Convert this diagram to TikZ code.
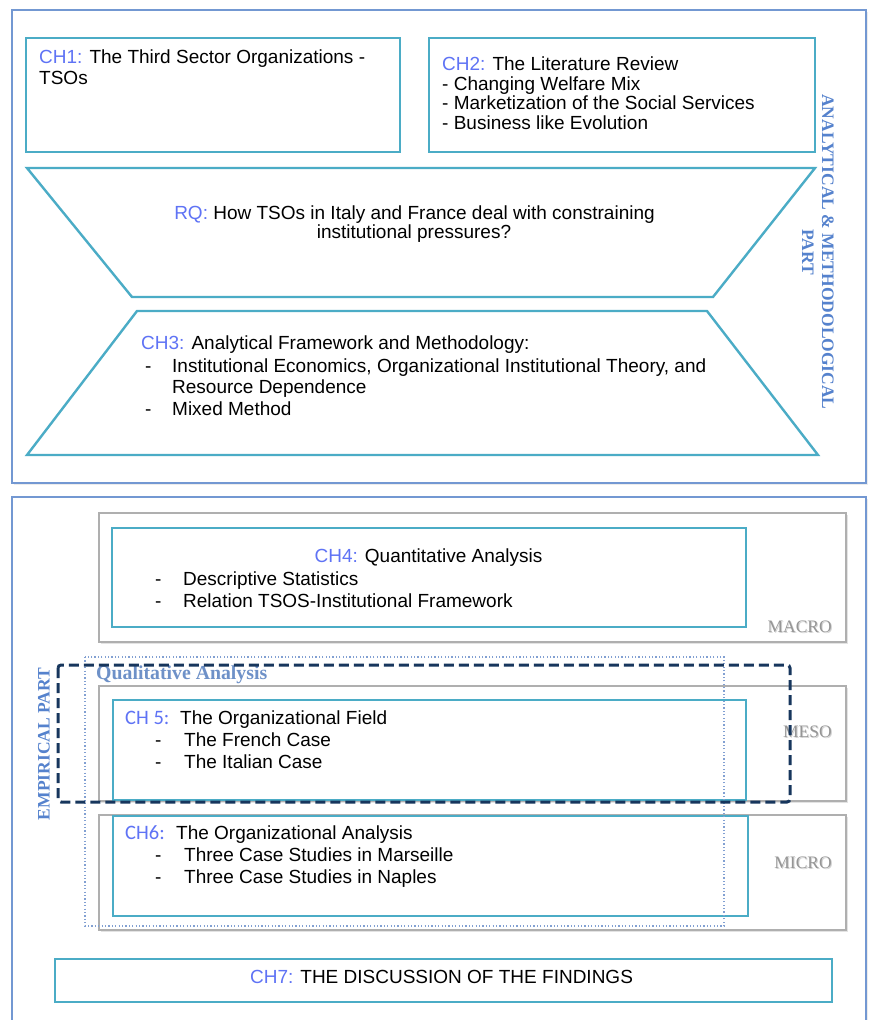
\documentclass[tikz,border=0pt]{standalone}
\usepackage{fontspec}
\setmainfont{Liberation Sans}
\newfontfamily\serifl{Liberation Serif}
\newfontfamily\calib{Carlito}
\usetikzlibrary{shadows}
\definecolor{tealc}{RGB}{75,172,198}
\definecolor{outerblue}{RGB}{115,152,210}
\definecolor{chblue}{RGB}{95,115,245}
\definecolor{vertblue}{RGB}{85,130,205}
\definecolor{qualblue}{RGB}{110,145,200}
\definecolor{navy}{RGB}{23,54,93}
\definecolor{dotblue}{RGB}{130,160,210}
\definecolor{greyb}{RGB}{175,175,175}
\definecolor{greyt}{RGB}{150,150,150}
\begin{document}
\begin{tikzpicture}[x=1pt,y=-1pt,
  txt/.style={inner sep=0pt, anchor=base west, font=\fontsize{19}{21}\selectfont},
  ctxt/.style={inner sep=0pt, anchor=base, font=\fontsize{19}{21}\selectfont},
  tealbox/.style={draw=tealc, line width=2.4pt},
  outerbox/.style={draw=outerblue, line width=1.3pt, fill=white,
    drop shadow={shadow xshift=1.5pt, shadow yshift=-1.5pt, opacity=0.15}},
  greybox/.style={draw=greyb, line width=1.3pt, fill=white,
    drop shadow={shadow xshift=2pt, shadow yshift=-2pt, opacity=0.22}},
  lvl/.style={inner sep=0pt, anchor=base east, text=greyt, font=\serifl\fontsize{17.5}{19}\selectfont},
  lvlshadow/.style={lvl, text=black, opacity=0.18, xshift=1pt, yshift=-1.2pt},
  vert/.style={inner sep=0pt, align=center, text=vertblue, font=\serifl\bfseries\fontsize{17.5}{20}\selectfont},
  ch/.style={text=chblue}]
\useasboundingbox (0,0) rectangle (871,1020);

% outer boxes
\draw[outerbox] (12,10) rectangle (866,483);
\draw[outerbox] (12,497) rectangle (866,1040);

% top part
\draw[tealbox] (26,38) rectangle (400,152);
\draw[tealbox] (429,38) rectangle (815,152);
\node[txt] (ch1a) at (39,63) {\textcolor{chblue}{CH1:} The Third Sector Organizations -};
\node[txt] (ch1b) at (39,84) {TSOs};
\node[txt] (ch2a) at (442,70) {\textcolor{chblue}{CH2:} The Literature Review};
\node[txt] (ch2b) at (442,90) {- Changing Welfare Mix};
\node[txt] (ch2c) at (442,109.5) {- Marketization of the Social Services};
\node[txt] (ch2d) at (442,129) {- Business like Evolution};

\draw[tealbox, line join=miter] (27,168) -- (815,168) -- (713,297) -- (132,297) -- cycle;
\node[ctxt] (rqa) at (414.5,219) {\textcolor{chblue}{RQ:} How TSOs in Italy and France deal with constraining};
\node[ctxt] (rqb) at (414,238) {institutional pressures?};

\draw[tealbox, line join=miter] (137,311) -- (707,311) -- (818,455) -- (27,455) -- cycle;
\node[txt] (ch3a) at (141,349) {\textcolor{chblue}{CH3:} Analytical Framework and Methodology:};
\node[txt] (ch3d1) at (145,372) {-};
\node[txt] (ch3b) at (172,372) {Institutional Economics, Organizational Institutional Theory, and};
\node[txt] (ch3c) at (172,393.5) {Resource Dependence};
\node[txt] (ch3d2) at (145,415.5) {-};
\node[txt] (ch3e) at (172,415.5) {Mixed Method};

\node[vert, rotate=-90] (anlab) at (818,252) {ANALYTICAL \& METHODOLOGICAL\\PART};

% empirical part
\draw[greybox] (99,513) rectangle (846,642);
\draw[greybox] (99,686) rectangle (846,801);
\draw[greybox] (99,815) rectangle (846,930);

\node[lvlshadow] (macros) at (832,632) {MACRO};
\node[lvlshadow] (mesos) at (832,737) {MESO};
\node[lvlshadow] (micros) at (832,868) {MICRO};
\node[lvl] (macro) at (832,632) {MACRO};
\node[lvl] (meso) at (832,737) {MESO};
\node[lvl] (micro) at (832,868) {MICRO};

\draw[tealbox] (112,528) rectangle (746,627);
\node[ctxt] (ch4a) at (428.5,562) {\textcolor{chblue}{CH4:} Quantitative Analysis};
\node[txt] (ch4d1) at (155,585) {-};
\node[txt] (ch4b) at (183,585) {Descriptive Statistics};
\node[txt] (ch4d2) at (155,607) {-};
\node[txt] (ch4c) at (183,607) {Relation TSOS-Institutional Framework};

\draw[tealbox] (113,700) rectangle (746,800);
\node[txt] (ch5a) at (125,724) {\textcolor{chblue}{\calib\fontsize{20.5}{22}\selectfont CH 5:}};
\node[txt] (ch5t) at (180,724) {The Organizational Field};
\node[txt] (ch5d1) at (155,746) {-};
\node[txt] (ch5b) at (184,746) {The French Case};
\node[txt] (ch5d2) at (155,768) {-};
\node[txt] (ch5c) at (184,768) {The Italian Case};

\draw[tealbox] (113,816) rectangle (748,916);
\node[txt] (ch6a) at (125,839) {\textcolor{chblue}{\calib\fontsize{20.5}{22}\selectfont CH6:}};
\node[txt] (ch6t) at (176,839) {The Organizational Analysis};
\node[txt] (ch6d1) at (155,861) {-};
\node[txt] (ch6b) at (184,861) {Three Case Studies in Marseille};
\node[txt] (ch6d2) at (155,883) {-};
\node[txt] (ch6c) at (184,883) {Three Case Studies in Naples};

\node[vert, rotate=90] (emplab) at (44,744) {EMPIRICAL PART};

% qualitative dotted region
\draw[dotblue, line width=1.2pt, dash pattern=on 1.2pt off 2.2pt] (85,657) rectangle (724,926);
\node[inner sep=0pt, anchor=base west, text=qualblue, font=\serifl\bfseries\fontsize{19.8}{21}\selectfont] (qual) at (96,679) {Qualitative Analysis};

% dashed highlight
\draw[navy, line width=3pt, dash pattern=on 10pt off 5pt, rounded corners=3pt] (58,665) rectangle (790,802);

% CH7
\draw[tealbox] (55,959) rectangle (832,1002);
\node[ctxt] (ch7) at (441.5,983) {\textcolor{chblue}{CH7:} THE DISCUSSION OF THE FINDINGS};
\end{tikzpicture}
\end{document}
